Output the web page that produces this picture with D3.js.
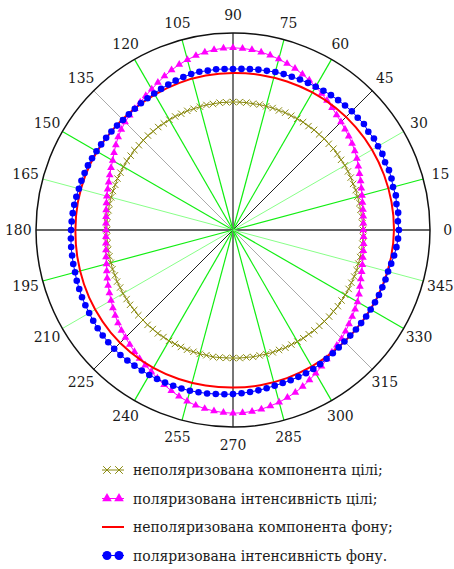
<!DOCTYPE html>
<html>
<head>
<meta charset="utf-8">
<script src="https://cdn.jsdelivr.net/npm/d3@7"></script>
<style>
  body { margin: 0; background: #fff; }
  svg { display: block; }
</style>
</head>
<body>
<svg id="chart" width="454" height="569"></svg>
<script>
// angle labels around the polar grid (degrees)
var angleTicks = [0, 15, 30, 45, 60, 75, 90, 105, 120, 135, 150, 165,
                  180, 195, 210, 225, 240, 255, 270, 285, 300, 315, 330, 345];

// measured series, angles in degrees, radius normalised to outer circle = 1
var angles3 = d3.range(0, 360, 3);   // 0, 3, ... 357
var angles10 = d3.range(0, 360, 10); // 0, 10, ... 350

// неполяризована компонента цілі
var targetUnpol = [
  0.660, 0.658, 0.657, 0.655, 0.656, 0.654, 0.655, 0.653, 0.654, 0.655,
  0.656, 0.654, 0.655, 0.656, 0.654, 0.655, 0.653, 0.654, 0.652, 0.653,
  0.652, 0.651, 0.652, 0.650, 0.651, 0.650, 0.651, 0.649, 0.650, 0.650,
  0.650, 0.649, 0.650, 0.648, 0.649, 0.648, 0.647, 0.648, 0.646, 0.647,
  0.646, 0.645, 0.646, 0.644, 0.645, 0.644, 0.643, 0.644, 0.642, 0.643,
  0.642, 0.641, 0.642, 0.640, 0.641, 0.640, 0.641, 0.640, 0.641, 0.640,
  0.640, 0.641, 0.640, 0.642, 0.641, 0.642, 0.643, 0.642, 0.644, 0.643,
  0.645, 0.644, 0.646, 0.645, 0.647, 0.646, 0.648, 0.647, 0.649, 0.648,
  0.650, 0.649, 0.650, 0.651, 0.650, 0.651, 0.650, 0.652, 0.651, 0.650,
  0.650, 0.651, 0.650, 0.652, 0.651, 0.652, 0.653, 0.652, 0.654, 0.653,
  0.654, 0.655, 0.654, 0.656, 0.655, 0.656, 0.657, 0.656, 0.658, 0.657,
  0.658, 0.659, 0.658, 0.659, 0.660, 0.659, 0.660, 0.661, 0.660, 0.661
];

// поляризована інтенсивність цілі
var targetPol = [
  0.662, 0.663, 0.665, 0.668, 0.672, 0.678, 0.685, 0.694, 0.703, 0.714,
  0.726, 0.737, 0.747, 0.756, 0.765, 0.775, 0.786, 0.799, 0.812, 0.826,
  0.840, 0.853, 0.866, 0.878, 0.888, 0.898, 0.907, 0.914, 0.920, 0.923,
  0.925, 0.924, 0.920, 0.914, 0.905, 0.895, 0.883, 0.870, 0.855, 0.840,
  0.825, 0.813, 0.801, 0.792, 0.784, 0.775, 0.763, 0.750, 0.735, 0.720,
  0.705, 0.695, 0.685, 0.676, 0.669, 0.663, 0.657, 0.652, 0.648, 0.646,
  0.645, 0.646, 0.649, 0.653, 0.659, 0.665, 0.674, 0.684, 0.694, 0.704,
  0.715, 0.727, 0.739, 0.751, 0.762, 0.772, 0.783, 0.795, 0.807, 0.818,
  0.830, 0.845, 0.860, 0.874, 0.888, 0.900, 0.910, 0.918, 0.924, 0.928,
  0.930, 0.929, 0.926, 0.921, 0.913, 0.905, 0.894, 0.883, 0.870, 0.855,
  0.840, 0.825, 0.810, 0.798, 0.788, 0.780, 0.769, 0.758, 0.748, 0.739,
  0.730, 0.718, 0.705, 0.695, 0.687, 0.680, 0.674, 0.670, 0.667, 0.664
];

// неполяризована компонента фону
var backUnpol = [
  0.817, 0.817, 0.816, 0.815, 0.813, 0.810, 0.806, 0.802, 0.799, 0.797,
  0.796, 0.795, 0.794, 0.794, 0.795, 0.797, 0.799, 0.800, 0.800, 0.802,
  0.805, 0.808, 0.810, 0.810, 0.808, 0.805, 0.802, 0.800, 0.800, 0.800,
  0.800, 0.800, 0.802, 0.806, 0.810, 0.814
];

// поляризована інтенсивність фону
var backPol = [
  0.842, 0.838, 0.843, 0.840, 0.845, 0.841, 0.846, 0.848, 0.845, 0.851,
  0.850, 0.853, 0.849, 0.855, 0.852, 0.853, 0.850, 0.848, 0.846, 0.843,
  0.840, 0.838, 0.836, 0.833, 0.832, 0.830, 0.826, 0.824, 0.821, 0.819,
  0.817, 0.818, 0.820, 0.819, 0.821, 0.820, 0.816, 0.812, 0.808, 0.804,
  0.800, 0.797, 0.795, 0.792, 0.790, 0.790, 0.792, 0.794, 0.796, 0.798,
  0.800, 0.803, 0.806, 0.807, 0.809, 0.810, 0.813, 0.816, 0.818, 0.820,
  0.822, 0.824, 0.826, 0.827, 0.829, 0.830, 0.834, 0.836, 0.839, 0.841,
  0.843, 0.846, 0.849, 0.851, 0.852, 0.853, 0.854, 0.852, 0.851, 0.850,
  0.850, 0.849, 0.848, 0.847, 0.846, 0.845, 0.842, 0.840, 0.837, 0.835,
  0.833, 0.830, 0.827, 0.824, 0.821, 0.818, 0.817, 0.817, 0.816, 0.816,
  0.815, 0.812, 0.808, 0.805, 0.802, 0.800, 0.801, 0.803, 0.804, 0.806,
  0.807, 0.809, 0.811, 0.812, 0.814, 0.815, 0.821, 0.828, 0.834, 0.839
];

var legendLabels = [
  "неполяризована компонента цілі;",
  "поляризована інтенсивність цілі;",
  "неполяризована компонента фону;",
  "поляризована інтенсивність фону."
];

var serif = "'DejaVu Serif Condensed', 'DejaVu Serif', serif";

var svg = d3.select("#chart"),
    cx = 233, cy = 230, R = 197;

var g = svg.append("g").attr("transform", "translate(" + cx + "," + cy + ")");

// radial scale and angle (math degrees, ccw from east -> d3 radians, cw from north)
var r = d3.scaleLinear().domain([0, 1]).range([0, R]);
var ang = d3.scaleLinear().domain([0, 360]).range([Math.PI / 2, Math.PI / 2 - 2 * Math.PI]);

function px(a, v) { return r(v) * Math.sin(ang(a)); }
function py(a, v) { return -r(v) * Math.cos(ang(a)); }

// spoke styles, one per diameter
function spokeStyle(a) {
  var m = a % 180;
  if (m === 0) return { c: "#333", w: 1.5 };
  if (m === 90) return { c: "#777", w: 2 };
  if (m === 45) return { c: "#222", w: 1 };
  if (m === 135) return { c: "#aaa", w: 1 };
  if (m === 30 || m === 165) return { c: "#8f8", w: 1 };
  return { c: "#1e1", w: 1.2 };
}

g.selectAll(".spoke")
  .data(angleTicks)
  .enter().append("line")
  .attr("class", "spoke")
  .attr("x1", 0).attr("y1", 0)
  .attr("x2", function (d) { return px(d, 1); })
  .attr("y2", function (d) { return py(d, 1); })
  .attr("stroke", function (d) { return spokeStyle(d).c; })
  .attr("stroke-width", function (d) { return spokeStyle(d).w; });

g.append("circle")
  .attr("r", r(1))
  .attr("fill", "none")
  .attr("stroke", "#111")
  .attr("stroke-width", 1.5);

g.selectAll(".alabel")
  .data(angleTicks)
  .enter().append("text")
  .attr("class", "alabel")
  .attr("x", function (d) { return px(d, 1.09); })
  .attr("y", function (d) { return py(d, 1.09); })
  .attr("text-anchor", "middle")
  .attr("dominant-baseline", "central")
  .style("font-family", serif)
  .style("font-stretch", "condensed")
  .style("font-size", "15.5px")
  .attr("fill", "#1a1a1a")
  .text(function (d) { return d; });

function radialLine(curve) {
  return d3.lineRadial()
    .angle(function (d) { return ang(d[0]); })
    .radius(function (d) { return r(d[1]); })
    .curve(curve);
}

var olivePts = d3.zip(angles3, targetUnpol),
    pinkPts = d3.zip(angles3, targetPol),
    redPts = d3.zip(angles10, backUnpol),
    bluePts = d3.zip(angles3, backPol);

var olive = "#8a8a10", pink = "#ff00ff", red = "#ff0000", blue = "#0000ff";

// target, unpolarised
g.append("path").datum(olivePts)
  .attr("d", radialLine(d3.curveLinearClosed))
  .attr("fill", "none").attr("stroke", olive).attr("stroke-width", 1);
g.selectAll(".xm").data(olivePts).enter().append("path")
  .attr("class", "xm")
  .attr("d", d3.symbol().type(d3.symbolX).size(28))
  .attr("transform", function (d) { return "translate(" + px(d[0], d[1]) + "," + py(d[0], d[1]) + ")"; })
  .attr("fill", "none").attr("stroke", olive).attr("stroke-width", 1);

// target, polarised
g.append("path").datum(pinkPts)
  .attr("d", radialLine(d3.curveLinearClosed))
  .attr("fill", "none").attr("stroke", pink).attr("stroke-width", 1);
g.selectAll(".tm").data(pinkPts).enter().append("path")
  .attr("class", "tm")
  .attr("d", d3.symbol().type(d3.symbolTriangle).size(26))
  .attr("transform", function (d) { return "translate(" + px(d[0], d[1]) + "," + py(d[0], d[1]) + ")"; })
  .attr("fill", pink);

// background, unpolarised
g.append("path").datum(redPts)
  .attr("d", radialLine(d3.curveCardinalClosed))
  .attr("fill", "none").attr("stroke", red).attr("stroke-width", 2);

// background, polarised
g.append("path").datum(bluePts)
  .attr("d", radialLine(d3.curveLinearClosed))
  .attr("fill", "none").attr("stroke", blue).attr("stroke-width", 1);
g.selectAll(".cm").data(bluePts).enter().append("circle")
  .attr("class", "cm")
  .attr("cx", function (d) { return px(d[0], d[1]); })
  .attr("cy", function (d) { return py(d[0], d[1]); })
  .attr("r", 3.3)
  .attr("fill", blue);

// legend
var leg = svg.append("g").attr("transform", "translate(102,470)");
var rows = leg.selectAll(".row").data(legendLabels).enter().append("g")
  .attr("class", "row")
  .attr("transform", function (d, i) { return "translate(0," + (i * 28.5) + ")"; });

rows.append("text")
  .attr("x", 31).attr("y", 0)
  .attr("dominant-baseline", "central")
  .style("font-family", serif)
  .style("font-stretch", "condensed")
  .style("font-size", "15.5px")
  .attr("fill", "#1a1a1a")
  .text(function (d) { return d; });

var r0 = d3.select(rows.nodes()[0]);
r0.append("line").attr("x1", 0).attr("x2", 22).attr("stroke", olive).attr("stroke-width", 1);
[5, 17].forEach(function (x) {
  r0.append("path").attr("d", d3.symbol().type(d3.symbolX).size(40)())
    .attr("transform", "translate(" + x + ",0)")
    .attr("fill", "none").attr("stroke", olive).attr("stroke-width", 1);
});
var r1 = d3.select(rows.nodes()[1]);
r1.append("line").attr("x1", 0).attr("x2", 22).attr("stroke", pink).attr("stroke-width", 1);
[5, 17].forEach(function (x) {
  r1.append("path").attr("d", d3.symbol().type(d3.symbolTriangle).size(40)())
    .attr("transform", "translate(" + x + ",0)").attr("fill", pink);
});
var r2 = d3.select(rows.nodes()[2]);
r2.append("line").attr("x1", 0).attr("x2", 22).attr("stroke", red).attr("stroke-width", 2);
var r3 = d3.select(rows.nodes()[3]);
r3.append("line").attr("x1", 0).attr("x2", 22).attr("stroke", blue).attr("stroke-width", 1);
[5, 17].forEach(function (x) {
  r3.append("circle").attr("cx", x).attr("cy", 0).attr("r", 4.5).attr("fill", blue);
});
</script>
</body>
</html>
